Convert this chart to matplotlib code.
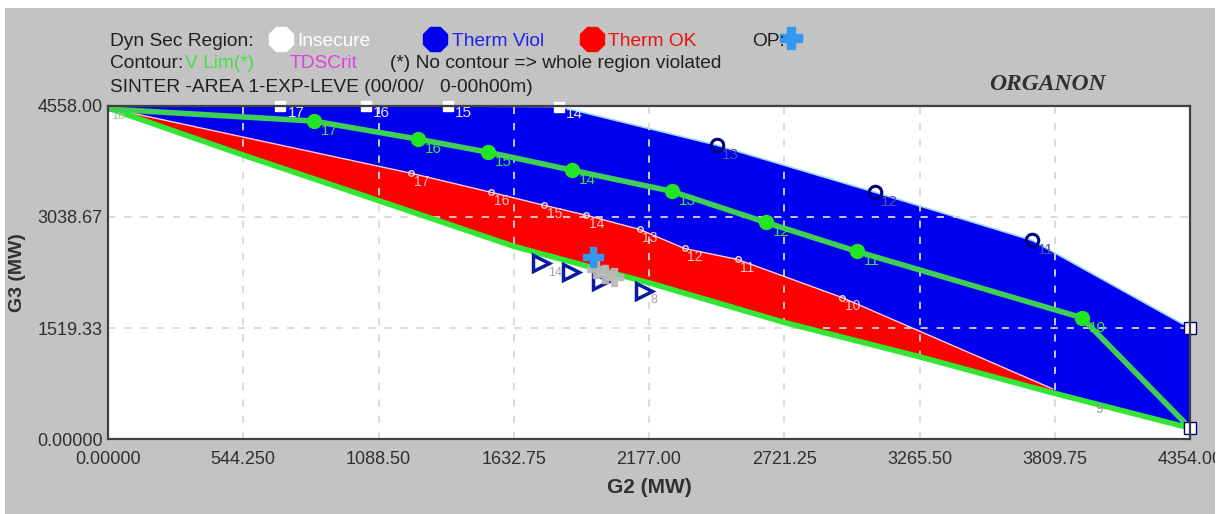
import numpy as np
import matplotlib
matplotlib.use("Agg")
import matplotlib.pyplot as plt
from matplotlib.patches import Rectangle
from matplotlib.transforms import Bbox, TransformedBbox

plt.rcParams['font.family'] = ['Liberation Sans', 'DejaVu Sans']

# ---------------- data ----------------
x_ticks = [0.0, 544.25, 1088.5, 1632.75, 2177.0, 2721.25, 3265.5, 3809.75, 4354.0]
x_tick_labels = ["0.00000", "544.250", "1088.50", "1632.75", "2177.00",
                 "2721.25", "3265.50", "3809.75", "4354.00"]
y_ticks = [0.0, 1519.33, 3038.67, 4558.0]
y_tick_labels = ["0.00000", "1519.33", "3038.67", "4558.00"]

# upper boundary of the thermally violated (blue) region
blue_top_x = [0, 694, 1037, 1368, 1816, 2449, 3087, 3720, 4354, 4354]
blue_top_y = [4558, 4558, 4558, 4558, 4550, 4023, 3377, 2718, 1519, 150]
sq_x = [694, 1037, 1368, 1816]
sq_y = [4558, 4558, 4558, 4550]
sq_lab = ["17", "16", "15", "14"]
circ_x = [2449, 3087, 3720]
circ_y = [4023, 3377, 2718]
circ_lab = ["13", "12", "11"]
edge_sq_x = [4354, 4354]
edge_sq_y = [1519, 150]

# lower boundary (green contour)
lower_x = [0, 545, 1085, 1634, 2187, 2724, 3265, 3801, 4354]
lower_y = [4530, 3885, 3268, 2636, 2128, 1593, 1126, 632, 150]

# upper boundary of the thermally OK (red) region
red_top_x = [0, 1219, 1541, 1755, 1925, 2139, 2320, 2534, 2954, 3801]
red_top_y = [4531, 3638, 3377, 3199, 3062, 2869, 2608, 2457, 1936, 686]
red_lab = ["", "17", "16", "15", "14", "13", "12", "11", "10", ""]

# voltage-limit contour (green with markers)
vlim_x = [0, 827, 1247, 1529, 1868, 2268, 2647, 3014, 3918, 4354]
vlim_y = [4517, 4352, 4105, 3926, 3679, 3391, 2965, 2567, 1661, 150]
vlim_lab = ["", "17", "16", "15", "14", "13", "12", "11", "10", ""]

# TDS critical points
tri_x = [1743, 1864, 1985, 2155]
tri_y = [2403, 2279, 2169, 2032]
tri_lab = ["14", "", "", "8"]

# operating point and nearby points
op_x = [1953]
op_y = [2485]
gray_x = [1965, 2000, 2035]
gray_y = [2330, 2262, 2215]

# ---------------- figure ----------------
W, H = 1227, 514
fig = plt.figure(figsize=(W / 100, H / 100), dpi=100)
fig.patch.set_facecolor('white')
fig.patches.append(Rectangle((5 / W, 0), (1215 - 5) / W, (H - 8) / H,
                             transform=fig.transFigure, facecolor='#c3c3c3',
                             edgecolor='none', zorder=-10))

ax = fig.add_axes([108 / W, 1 - 439 / H, (1190 - 108) / W, (439 - 106) / H])
ax.set_facecolor('white')
ax.set_xlim(0, 4354)
ax.set_ylim(0, 4558)

BLUE = '#0000f0'
RED = '#ff0000'
NAVY = '#000080'

# blue region
bx = list(blue_top_x) + lower_x[::-1]
by = list(blue_top_y) + lower_y[::-1]
ax.fill(bx, by, color=BLUE, zorder=1, lw=0)
ax.plot(blue_top_x[:-1], blue_top_y[:-1], color='#9fd8ff', lw=1.2, zorder=1.5)

# red region
low_part = [(x, y) for x, y in zip(lower_x, lower_y) if x <= red_top_x[-1]]
rx = list(red_top_x) + [p[0] for p in low_part][::-1]
ry = list(red_top_y) + [p[1] for p in low_part][::-1]
ax.fill(rx, ry, color=RED, zorder=2, lw=0)

# grid
ax.set_xticks(x_ticks)
ax.set_yticks(y_ticks)
ax.set_xticklabels(x_tick_labels)
ax.set_yticklabels(y_tick_labels)
ax.grid(True, color='#d8d8d8', linestyle=(0, (4, 5)), lw=1.3, zorder=2.5)
ax.set_axisbelow(False)
for gl in ax.get_xgridlines() + ax.get_ygridlines():
    gl.set_zorder(2.5)

# red top boundary (thin white line with small markers)
ax.plot(red_top_x, red_top_y, color='#ffd0d0', lw=1.0, zorder=3)
ax.plot(red_top_x[1:-1], red_top_y[1:-1], ls='none', marker='o', ms=4,
        mfc='none', mec='#ffd8d8', mew=1, zorder=3)
for x, y, t in zip(red_top_x, red_top_y, red_lab):
    if t:
        ax.annotate(t, (x, y), xytext=(2, -9), textcoords='offset points',
                    color='#ffc8c8', fontsize=10, zorder=3)

# lower green contour
ax.plot(lower_x, lower_y, color='#33e633', lw=4, zorder=4, solid_capstyle='round')
ax.annotate("9", (3975, 470), xytext=(0, -6), textcoords='offset points',
            color='#9a9a9a', fontsize=10, zorder=4)
ax.annotate("18", (0, 4530), xytext=(2, -8), textcoords='offset points',
            color='#a0c8a0', fontsize=9, zorder=4)

# voltage limit contour
ax.plot(vlim_x, vlim_y, color='#3fcf55', lw=4, zorder=5)
ax.plot(vlim_x[1:-1], vlim_y[1:-1], ls='none', marker='o', ms=10,
        mfc='#22e622', mec='#22e622', zorder=5.5)
for x, y, t in zip(vlim_x, vlim_y, vlim_lab):
    if t:
        ax.annotate(t, (x, y), xytext=(5, -10), textcoords='offset points',
                    color='#44dd44', fontsize=11, zorder=5.5)

# boundary markers: white squares and open circles
ax.plot(sq_x, sq_y, ls='none', marker='s', ms=7, mfc='white', mec='white', zorder=6,
        clip_on=False)
for x, y, t in zip(sq_x, sq_y, sq_lab):
    ax.annotate(t, (x, y), xytext=(5, -8), textcoords='offset points',
                color='#e8e8ff', fontsize=11, zorder=6)
ax.plot(circ_x, circ_y, ls='none', marker='o', ms=9, mfc='none', mec=NAVY,
        mew=2.2, zorder=6)
for x, y, t in zip(circ_x, circ_y, circ_lab):
    ax.annotate(t, (x, y), xytext=(4, -10), textcoords='offset points',
                color='#5050a0', fontsize=11, zorder=6)
ax.plot(edge_sq_x, edge_sq_y, ls='none', marker='s', ms=8, mfc='white', mec=NAVY,
        mew=1, zorder=6, clip_on=False)

# TDS critical triangles
ax.plot(tri_x, tri_y, ls='none', marker='>', ms=11, mfc='none', mec='#0a1aa0',
        mew=2.5, zorder=6)
for x, y, t in zip(tri_x, tri_y, tri_lab):
    if t:
        ax.annotate(t, (x, y), xytext=(5, -9), textcoords='offset points',
                    color='#a0a0b0', fontsize=9, zorder=6)

# gray points & OP
ax.plot(gray_x, gray_y, ls='none', marker='P', ms=13, mfc='#b8b8b8', mec='#b8b8b8',
        alpha=0.9, zorder=6.5)
ax.plot(op_x, op_y, ls='none', marker='P', ms=14, mfc='#3399ee', mec='#3399ee',
        zorder=7)

# axes style
for s in ax.spines.values():
    s.set_color('#404040')
    s.set_linewidth(1.6)
    s.set_zorder(8)
ax.tick_params(length=0, labelsize=13, colors='#303030')
ax.tick_params(axis='x', pad=9)
ax.tick_params(axis='y', pad=4)
ax.set_xlabel("G2 (MW)", fontsize=15, fontweight='bold', color='#303030', labelpad=7)
ax.set_ylabel("G3 (MW)", fontsize=14, fontweight='bold', color='#303030', labelpad=8)

# clip last x tick label at the grey frame edge
fig.canvas.draw()
clipbox = TransformedBbox(Bbox([[0, 0], [1215 / W, 1]]), fig.transFigure)
for lab in ax.get_xticklabels():
    lab.set_clip_box(clipbox)
    lab.set_clip_on(True)

# ---------------- header (pixel overlay) ----------------
ov = fig.add_axes([0, 0, 1, 1], zorder=10)
ov.set_xlim(0, W)
ov.set_ylim(H, 0)
ov.axis('off')
ov.patch.set_alpha(0)

fs = 13.8
dark = '#202020'
ov.text(110, 41, "Dyn Sec Region:", fontsize=fs, color=dark, va='center')
ov.plot([281], [39], marker='8', ms=18, mfc='white', mec='white', ls='none')
ov.text(297, 41, "Insecure", fontsize=fs, color='white', va='center')
ov.plot([435], [39], marker='8', ms=18, mfc='#0000ee', mec='#0000ee', ls='none')
ov.text(452, 41, "Therm Viol", fontsize=fs, color='#2020ee', va='center')
ov.plot([592], [39], marker='8', ms=18, mfc='#ff0000', mec='#ff0000', ls='none')
ov.text(608, 41, "Therm OK", fontsize=fs, color='#ee1010', va='center')
ov.text(752, 41, "OP:", fontsize=fs, color=dark, va='center')
ov.plot([791], [38], marker='P', ms=16, mfc='#3399ee', mec='#3399ee', ls='none')

ov.text(110, 63, "Contour:", fontsize=fs, color=dark, va='center')
ov.text(185, 63, "V Lim(*)", fontsize=fs, color='#44e044', va='center')
ov.text(290, 63, "TDSCrit", fontsize=fs, color='#e040e0', va='center')
ov.text(390, 63, "(*) No contour => whole region violated", fontsize=fs,
        color=dark, va='center')
ov.text(110, 88, "SINTER -AREA 1-EXP-LEVE (00/00/   0-00h00m)", fontsize=fs,
        color=dark, va='center')
ov.text(1047, 84, "ORGANON", fontsize=17, color='#303030', va='center', ha='center',
        family='Liberation Serif', fontweight='bold', fontstyle='italic')

fig.savefig("out.png", dpi=100)
